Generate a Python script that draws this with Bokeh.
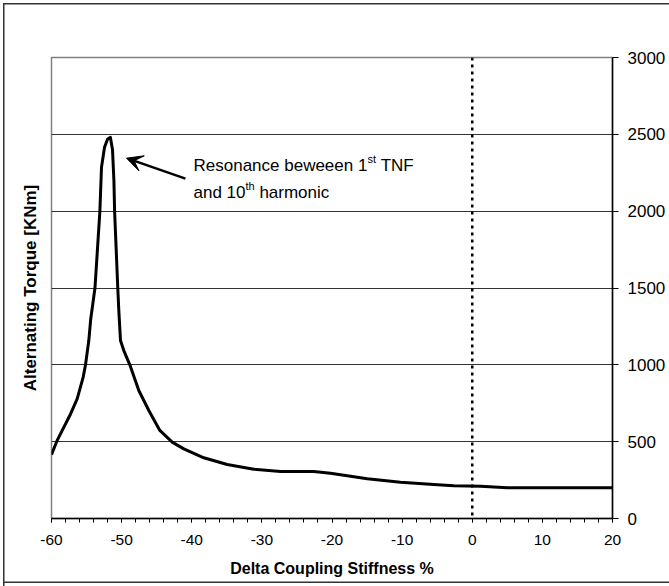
from bokeh.plotting import figure
from bokeh.models import (Span, Label, Arrow, VeeHead, SingleIntervalTicker,
                          PrintfTickFormatter, Title)
from bokeh.embed import file_html
from bokeh.resources import INLINE

# ---- data ----
stiffness = [-60, -59.19, -57.39, -56.34, -55.48, -55.15, -54.68, -54.4,
             -53.8, -53.1, -52.87, -52.44, -52.0, -51.6, -51.3, -51.1, -51.0,
             -50.55, -50.4, -50.16, -49.69, -48.83, -47.55, -46.12, -44.55,
             -42.79, -41.13, -38.28, -34.95, -31.15, -27.34, -22.6, -20.21,
             -17.83, -14.98, -10.23, -5.48, -2.63, 1.18, 5, 10, 15, 20]
torque = [416, 508, 670, 779, 920, 1000, 1158, 1300, 1500, 2000, 2286, 2416,
          2470, 2480, 2400, 2200, 2000, 1500, 1353, 1158, 1093, 1000, 833,
          703, 573, 497, 453, 395, 351, 321, 306, 306, 295, 278, 258, 236,
          221, 213, 210, 200, 200, 200, 200]

x_title = "Delta Coupling Stiffness %"
y_title = "Alternating Torque [KNm]"
note_line1 = ["Resonance beweeen 1", "st", "TNF"]
note_line2 = ["and 10", "th", "harmonic"]
arrow_tip = (-49.3, 2345)
arrow_tail = (-40.9, 2212)
note_pos = (-39.75, 2295)

FONT = "Liberation Sans"

p = figure(width=669, height=586, output_backend="svg", toolbar_location=None,
           x_range=(-60, 20), y_range=(0, 3000), y_axis_location="right",
           min_border_left=51, min_border_right=57, min_border_top=57,
           min_border_bottom=68)
p.background_fill_color = "white"
p.border_fill_color = "white"
p.border_fill_alpha = 0
p.outline_line_color = "#808080"
p.outline_line_width = 1.5
# outer chart border, painted by the page element behind the transparent canvas
p.styles = {
    "background-color": "white",
    "box-shadow": ("inset 3px 3px 0 0 white, inset 4.5px 4.5px 0 0 #333333, "
                   "inset 0 -3px 0 0 white, inset 0 -4.5px 0 0 #333333"),
}

# x axis
xa = p.xaxis[0]
xa.ticker = SingleIntervalTicker(interval=10, num_minor_ticks=5)
xa.formatter = PrintfTickFormatter(format="%d")
xa.axis_line_color = "black"
xa.axis_line_width = 1.5
xa.major_tick_in = 0
xa.major_tick_out = 4
xa.minor_tick_in = 0
xa.minor_tick_out = 4
xa.major_tick_line_color = "black"
xa.minor_tick_line_color = "black"
xa.major_label_text_font = FONT
xa.major_label_text_font_size = "15.5px"
xa.major_label_text_color = "black"
xa.major_label_standoff = 12
xa.axis_label = x_title
xa.axis_label_text_font = FONT
xa.axis_label_text_font_size = "16px"
xa.axis_label_text_font_style = "bold"
xa.axis_label_text_color = "black"
xa.axis_label_standoff = 12

# y axis (right)
ya = p.yaxis[0]
ya.ticker = SingleIntervalTicker(interval=500, num_minor_ticks=0)
ya.formatter = PrintfTickFormatter(format="%d")
ya.axis_line_color = "black"
ya.axis_line_width = 1.5
ya.major_tick_in = 0
ya.major_tick_out = 6
ya.minor_tick_line_color = None
ya.major_tick_line_color = "black"
ya.major_label_text_font = FONT
ya.major_label_text_font_size = "17px"
ya.major_label_text_color = "black"
ya.major_label_standoff = 9

p.xgrid.grid_line_color = None
p.ygrid.ticker = SingleIntervalTicker(interval=500)
p.ygrid.grid_line_color = "#333333"
p.ygrid.grid_line_width = 1

# y axis title on the left
p.add_layout(Title(text=y_title, align="center", vertical_align="top",
                   text_font=FONT, text_font_size="17px",
                   text_font_style="bold", text_color="black", standoff=20),
             "left")

# dotted vertical line at 0
p.add_layout(Span(location=0, dimension="height", line_color="black",
                  line_width=2.5, line_dash="3 4"))

# curve
p.line(stiffness, torque, line_color="black", line_width=3,
       line_join="round")

# arrow annotation
p.add_layout(Arrow(x_start=arrow_tail[0], y_start=arrow_tail[1],
                   x_end=arrow_tip[0], y_end=arrow_tip[1],
                   line_color="black", line_width=2.5,
                   end=VeeHead(size=16, fill_color="black",
                               line_color="black")))

AW = {'R': .722, 'e': .556, 's': .5, 'o': .556, 'n': .556, 'a': .556,
      'c': .5, ' ': .278, 'b': .556, 'w': .722, '1': .556, '0': .556,
      't': .278, 'T': .611, 'N': .722, 'F': .611, 'd': .556, 'h': .556,
      'r': .333, 'm': .833, 'i': .222}


def rich_line(parts, x, y, size=17):
    small = round(size * 0.62)
    off = 0.0
    for i, t in enumerate(parts):
        sup = (i == 1)
        fs = small if sup else size
        p.add_layout(Label(x=x, y=y, x_offset=off, y_offset=(7 if sup else 0),
                           text=t, text_align="left",
                           text_baseline="alphabetic",
                           text_font=FONT, text_font_size=f"{fs}px",
                           text_color="black"))
        off += sum(AW.get(c, 0.556) for c in t) * fs
        if sup:
            off += 0.278 * size


line_gap_units = 27 / (461 / 3000)
rich_line(note_line1, note_pos[0], note_pos[1])
rich_line(note_line2, note_pos[0], note_pos[1] - line_gap_units)

open("out.html", "w").write(file_html(p, INLINE))
